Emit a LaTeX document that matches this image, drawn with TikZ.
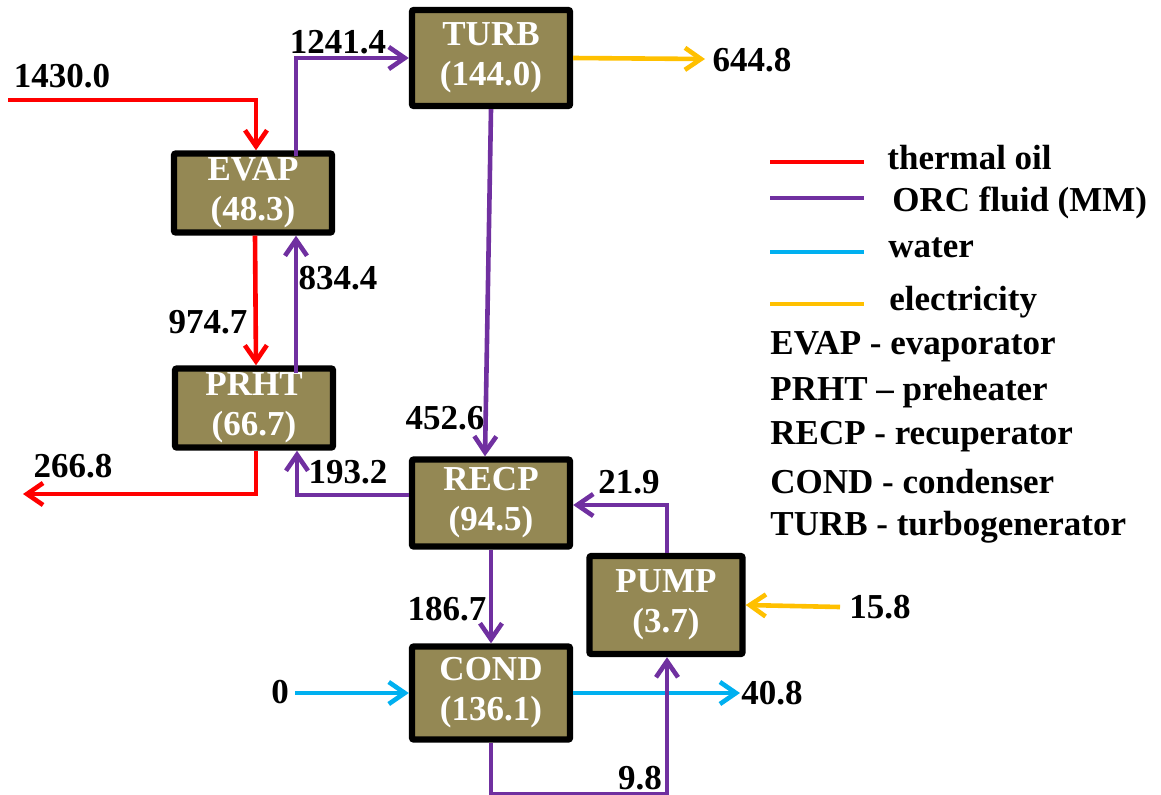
\documentclass[tikz,border=0pt]{standalone}
\usepackage{fontspec}
\setmainfont{Liberation Serif}[BoldFont={Liberation Serif Bold}]
\newfontfamily\diafont{Liberation Serif}[BoldFont={Liberation Serif Bold},Ligatures=TeX]
\usepackage{tikz}
\usetikzlibrary{positioning,calc}
\usetikzlibrary{arrows.meta}
\definecolor{OilRed}{RGB}{255,0,0}
\definecolor{OrcPurple}{RGB}{112,48,160}
\definecolor{WaterBlue}{RGB}{0,176,240}
\definecolor{ElecOrange}{RGB}{255,192,0}
\definecolor{UnitOlive}{RGB}{148,136,84}
\tikzset{
  unit/.style={draw=black,fill=UnitOlive,line width=3.2pt,rounded corners=1pt,minimum width=79pt,
    inner sep=0pt,align=center,text=white,font=\diafont\fontsize{17.5}{20}\selectfont\bfseries},
  flow/.style={line width=2.3pt,-{Straight Barb[length=8pt,width=11pt,line width=2.3pt]}},
  oil/.style={flow,draw=OilRed},
  orc/.style={flow,draw=OrcPurple},
  water/.style={flow,draw=WaterBlue},
  elec/.style={flow,draw=ElecOrange},
}
\tikzset{val/.style={font=\diafont\fontsize{17.5}{20}\selectfont\bfseries,inner sep=0pt}, legtext/.style={val,anchor=west}, legline/.style={line width=2.3pt}}
\begin{document}
\begin{tikzpicture}[x=0.5pt,y=-0.5pt]
\useasboundingbox (0,0) rectangle (1161,794);
\node[unit,minimum height=48pt] (TURB) at (491,58) {TURB\\(144.0)};
\node[unit,minimum height=39.5pt] (EVAP) at (253,193) {EVAP\\(48.3)};
\node[unit,minimum height=39.5pt] (PRHT) at (254,408) {PRHT\\(66.7)};
\node[unit,minimum height=43.5pt] (RECP) at (491,503) {RECP\\(94.5)};
\node[unit,minimum height=49pt,minimum width=76.5pt] (PUMP) at (666,605) {PUMP\\(3.7)};
\node[unit,minimum height=46.5pt] (COND) at (491,693) {COND\\(136.1)};
\coordinate (oilin) at (8,100);
\coordinate (oilout) at (23,494);
\coordinate (turbel) at (705,59);
\coordinate (pumpel) at (840,607);
\coordinate (win) at (295,693);
\coordinate (wout) at (740,693);
\draw[oil] (oilin) -| ([xshift=1.5pt]EVAP.north);
\draw[oil] ([xshift=1pt]EVAP.south) -- ([xshift=1pt]PRHT.north);
\draw[oil] ([xshift=1pt]PRHT.south) |- (oilout);
\draw[orc] ([xshift=21.5pt,yshift=-3pt]EVAP.north) |- (TURB.west);
\draw[orc] ([xshift=21pt,yshift=-4pt]PRHT.north) -- ([xshift=21.5pt]EVAP.south);
\draw[orc] (TURB.south) -- ([xshift=-3pt]RECP.north);
\draw[orc] ([yshift=4pt]RECP.west) -| ([xshift=21.5pt]PRHT.south);
\draw[orc] (RECP.south) -- (COND.north);
\draw[water] (win) -- (COND.west);
\draw[water] (COND.east) -- (wout);
\draw[orc] (COND.south) -- ++(0,52) -| ([xshift=0.5pt]PUMP.south);
\draw[orc] ([xshift=0.5pt]PUMP.north) |- ([yshift=-1pt]RECP.east);
\draw[elec] (TURB.east) -- (turbel);
\draw[elec] (pumpel) -- (PUMP.east);
\node[val] (v1) at (62,76) {1430.0};
\node[val] (v2) at (338,42) {1241.4};
\node[val] (v3) at (752,60) {644.8};
\node[val] (v4) at (208,322) {974.7};
\node[val] (v5) at (338,278) {834.4};
\node[val] (v6) at (73,466) {266.8};
\node[val] (v7) at (348,472) {193.2};
\node[val] (v8) at (445,418) {452.6};
\node[val] (v9) at (447,609) {186.7};
\node[val] (v10) at (280,692) {0};
\node[val] (v11) at (772,693) {40.8};
\node[val] (v12) at (629,482) {21.9};
\node[val] (v13) at (880,607) {15.8};
\node[val] (v14) at (640,778) {9.8};
\draw[legline,OilRed] (770,162) -- (864,162);
\draw[legline,OrcPurple] (770,198) -- (864,198);
\draw[legline,WaterBlue] (770,252) -- (864,252);
\draw[legline,ElecOrange] (770,304) -- (864,304);
\node[legtext] (lg1) at (887,158) {thermal oil};
\node[legtext] (lg2) at (892,203) {ORC fluid (MM)};
\node[legtext] (lg3) at (888,248) {water};
\node[legtext] (lg4) at (889,302) {electricity};
\node[legtext] (lg5) at (770,347) {EVAP - evaporator};
\node[legtext] (lg6) at (770,392) {PRHT – preheater};
\node[legtext] (lg7) at (770,437) {RECP - recuperator};
\node[legtext] (lg8) at (770,482) {COND - condenser};
\node[legtext] (lg9) at (770,527) {TURB - turbogenerator};
\end{tikzpicture}
\end{document}
